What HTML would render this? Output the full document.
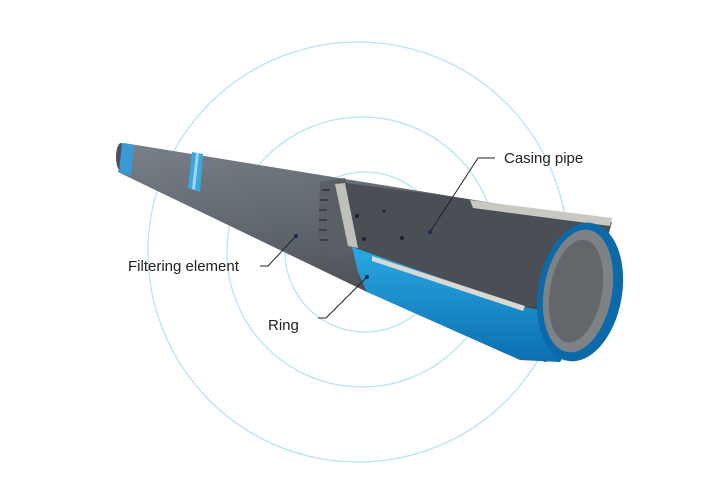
<!DOCTYPE html>
<html><head><style>
html,body{margin:0;padding:0;background:#fff;}
svg{display:block;}
text{font-family:"Liberation Sans",sans-serif;font-size:15px;fill:#222;}
</style></head><body>
<svg width="727" height="487" viewBox="0 0 727 487">
<defs>
<linearGradient id="g1" x1="0" y1="0" x2="0.3" y2="1">
<stop offset="0" stop-color="#7a8087"/><stop offset="0.45" stop-color="#60666d"/><stop offset="1" stop-color="#3c4146"/>
</linearGradient>
<linearGradient id="b1" x1="0" y1="0" x2="0" y2="1">
<stop offset="0" stop-color="#2aa8e2"/><stop offset="1" stop-color="#0b6fb0"/>
</linearGradient>
</defs>
<rect width="727" height="487" fill="#fff"/>
<g fill="none" stroke="#b9e2f3" stroke-width="1.3">
<circle cx="358" cy="252" r="210"/>
<circle cx="362" cy="252" r="135"/>
<circle cx="365" cy="252" r="80"/>
</g>
<polygon points="124,143 610,222 590,350 545,362 367,292 118,172" fill="url(#g1)"/>
<ellipse cx="121" cy="157" rx="5" ry="14" fill="#4c5258"/>
<polygon points="122,143 134,145 131,176 119,172" fill="#3a9bd4"/>
<polygon points="192,152 203,154 200,192 188,188" fill="#3aa8e0"/>
<polygon points="196,153 199,153 195,190 192,189" fill="#9fd4ee"/>
<polygon points="320,182 345,178 358,250 335,258 318,240" fill="#5a5f65"/>
<g stroke="#30353a" stroke-width="1.5">
<line x1="322" y1="190" x2="330" y2="190"/><line x1="320" y1="200" x2="328" y2="200"/><line x1="319" y1="210" x2="327" y2="210"/><line x1="319" y1="220" x2="327" y2="220"/><line x1="319" y1="230" x2="327" y2="230"/><line x1="320" y1="240" x2="328" y2="240"/>
</g>
<polygon points="338,182 440,195 612,222 590,300 523,307 352,247" fill="#4a4f55"/>
<polygon points="335,184 345,183 358,248 348,246" fill="#bfc0bc"/>
<polygon points="470,200 612,218 610,226 473,208" fill="#c9c9c4"/>
<polygon points="352,247 523,307 590,318 560,362 520,360 367,292 358,272" fill="url(#b1)"/>
<polygon points="372,256 525,306 523,311 372,261" fill="#d8d8d4"/>
<ellipse cx="580" cy="292" rx="42" ry="70" transform="rotate(10 580 292)" fill="#0c6aa8"/>
<ellipse cx="578" cy="291" rx="34" ry="62" transform="rotate(10 578 291)" fill="#7d8287"/>
<ellipse cx="576" cy="291" rx="26" ry="52" transform="rotate(10 576 291)" fill="#63676c"/>
<g fill="#1e2226"><circle cx="357" cy="216" r="2"/><circle cx="384" cy="211" r="1.5"/><circle cx="364" cy="239" r="2"/><circle cx="402" cy="238" r="2"/></g>
<g stroke="#222" stroke-width="1" fill="none">
<polyline points="430,232 478,158 495,158"/>
<polyline points="296,236 268,266 260,266"/>
<polyline points="367,277 326,318 318,318"/>
</g>
<g fill="#1d2a5a"><circle cx="430" cy="232" r="2"/><circle cx="296" cy="236" r="2"/><circle cx="367" cy="277" r="2"/></g>
<text x="504" y="163">Casing pipe</text>
<text x="128" y="271">Filtering element</text>
<text x="268" y="330">Ring</text>
</svg>
</body></html>
